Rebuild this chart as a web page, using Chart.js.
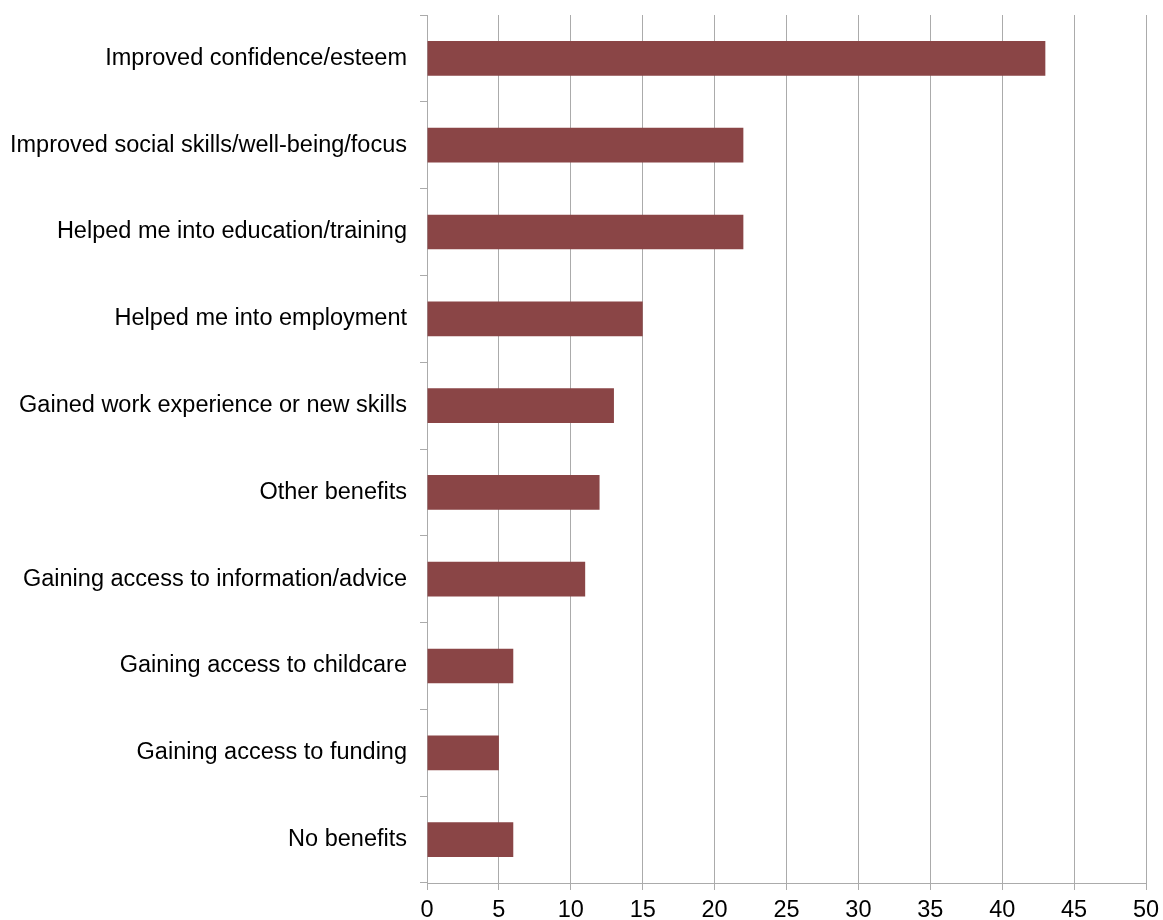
<!DOCTYPE html>
<html>
<head>
<meta charset="utf-8">
<script src="https://cdn.jsdelivr.net/npm/chart.js@4/dist/chart.umd.min.js"></script>
<style>
  body { margin: 0; background: #ffffff; }
  #wrap { width: 1163px; height: 920px; }
</style>
</head>
<body>
<div id="wrap"><canvas id="benefitsChart" width="1163" height="920"></canvas></div>
<script>
// Reported benefits, top to bottom
const benefitLabels = [
  'Improved confidence/esteem',
  'Improved social skills/well-being/focus',
  'Helped me into education/training',
  'Helped me into employment',
  'Gained work experience or new skills',
  'Other benefits',
  'Gaining access to information/advice',
  'Gaining access to childcare',
  'Gaining access to funding',
  'No benefits'
];
const benefitCounts = [43, 22, 22, 15, 13, 12, 11, 6, 5, 6];

const axisMin = 0;
const axisMax = 50;
const axisStep = 5;

const barColor = '#8a4546';
const lineColor = '#ababab';
const fontFamily = "'Liberation Sans', Arial, sans-serif";
const fontSize = 23.5;

const ctx = document.getElementById('benefitsChart').getContext('2d');

new Chart(ctx, {
  type: 'bar',
  data: {
    labels: benefitLabels,
    datasets: [{
      data: benefitCounts,
      backgroundColor: barColor,
      borderWidth: 0,
      categoryPercentage: 0.4,
      barPercentage: 1.0
    }]
  },
  options: {
    indexAxis: 'y',
    responsive: false,
    animation: false,
    layout: { padding: { top: 15, right: 17, left: 0, bottom: 0 } },
    plugins: {
      legend: { display: false },
      tooltip: { enabled: false }
    },
    scales: {
      x: {
        min: axisMin,
        max: axisMax,
        ticks: {
          stepSize: axisStep,
          color: '#000000',
          padding: 6,
          maxRotation: 0,
          font: { family: fontFamily, size: fontSize }
        },
        grid: {
          color: lineColor,
          lineWidth: 1,
          tickLength: 7
        },
        border: { color: lineColor, width: 1 },
        afterFit: scale => {
          scale.height = 37;
          scale.paddingLeft = 0;
          scale.paddingRight = 0;
        }
      },
      y: {
        ticks: {
          color: '#000000',
          padding: 13,
          font: { family: fontFamily, size: fontSize }
        },
        grid: {
          offset: true,
          drawOnChartArea: false,
          color: lineColor,
          tickLength: 7
        },
        border: { color: lineColor, width: 1 },
        afterFit: scale => {
          scale.width = 427;
          scale.paddingTop = 0;
          scale.paddingBottom = 0;
        }
      }
    }
  }
});
</script>
</body>
</html>
